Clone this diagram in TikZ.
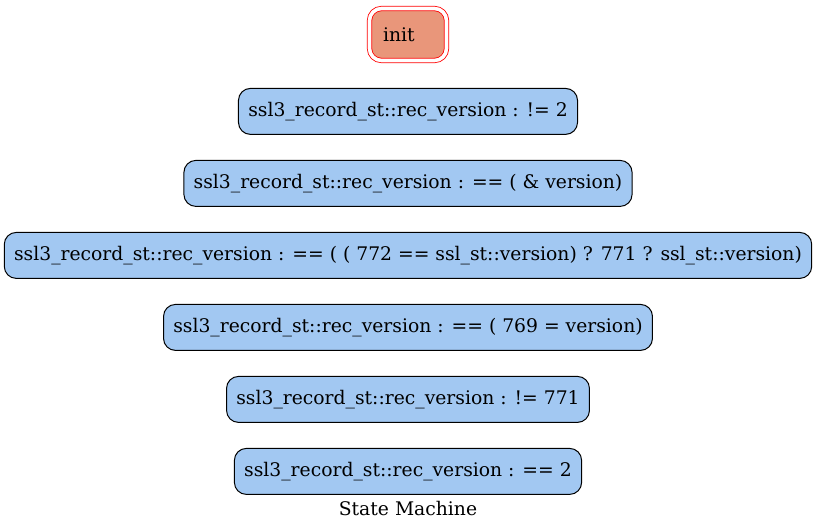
\documentclass[tikz,border=0pt]{standalone}
\usepackage{fontspec}
\setmainfont{DejaVu Serif}
\usetikzlibrary{positioning}
\definecolor{statefill}{RGB}{162,200,242}
\definecolor{initfill}{RGB}{233,150,122}

\begin{document}
\begin{tikzpicture}[
        x=1pt, y=1pt,
        node distance=25pt, % Расстояние между состояниями
        cell/.style={draw, rounded corners=12pt, fill=statefill, line width=1pt,
                minimum height=46pt, inner xsep=9.8pt, font=\fontsize{18.75}{20}\selectfont}, % Стиль состояний
        initcell/.style={cell, fill=initfill, draw=red, double=white, double distance=3.6pt,
                line width=0.8pt, minimum height=52pt, text width=50pt, inner xsep=13.5pt, align=left},
    ]
    \useasboundingbox (0,0) rectangle (816,-532);

    \node[initcell] (init) at (408,-34.5) {init};
    \node[cell, below=27pt of init] (s1) {ssl3\_record\_st::rec\_version : != 2};
    \node[cell, below=of s1] (s2) {ssl3\_record\_st::rec\_version : == ( \& version)};
    \node[cell, below=of s2] (s3) {ssl3\_record\_st::rec\_version : == ( ( 772 == ssl\_st::version) ? 771 ? ssl\_st::version)};
    \node[cell, below=of s3] (s4) {ssl3\_record\_st::rec\_version : == ( 769 = version)};
    \node[cell, below=of s4] (s5) {ssl3\_record\_st::rec\_version : != 771};
    \node[cell, below=of s5] (s6) {ssl3\_record\_st::rec\_version : == 2};

    \node[below=3pt of s6, font=\fontsize{18.75}{20}\selectfont] (title) {State Machine};
\end{tikzpicture}
\end{document}
